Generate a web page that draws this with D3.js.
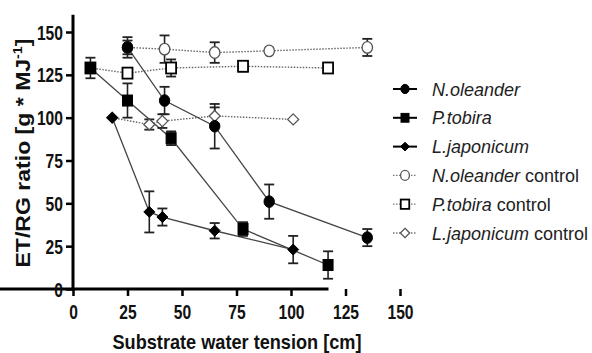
<!DOCTYPE html>
<html>
<head>
<meta charset="utf-8">
<script src="https://cdn.jsdelivr.net/npm/d3@7"></script>
<style>
  body { margin: 0; background: #fff; }
  svg { display: block; font-family: "Liberation Sans", Arial, sans-serif; }
</style>
</head>
<body>
<svg id="chart" width="592" height="353"></svg>
<script>
// tick labels
const xTicks = [0, 25, 50, 75, 100, 125, 150];
const yTicks = [0, 25, 50, 75, 100, 125, 150];

// N. oleander
const noleanderX = [25, 42, 65, 90, 135];
const noleanderY = [141, 110, 95, 51, 30];
const noleanderErr = [6, 8, 13, 10, 5];
const noleanderCtrlY = [141, 140, 138, 139, 141];
const noleanderCtrlErr = [4, 8, 6, 0, 5];

// P. tobira
const tobiraX = [8, 25, 45, 78, 117];
const tobiraY = [129, 110, 88, 35, 14];
const tobiraErr = [6, 10, 4, 4, 8];
const tobiraCtrlY = [129, 126, 129, 130, 129];
const tobiraCtrlErr = [0, 0, 5, 3, 0];

// L. japonicum
const japonicumX = [18, 35, 41, 65, 101];
const japonicumY = [100, 45, 42, 34, 23];
const japonicumErr = [0, 12, 5, 4.5, 8];
const japonicumCtrlY = [100, 96, 98, 101, 99];
const japonicumCtrlErr = [0, 3, 4, 5, 0];

const svg = d3.select('#chart');
const boldFont = '"Liberation Sans", Arial, sans-serif';

const x = d3.scaleLinear().domain([0, 150]).range([73, 400]);
const y = d3.scaleLinear().domain([0, 150]).range([289, 32]);

const zip = (xs, ys, es) => xs.map((v, i) => ({ x: v, y: ys[i], e: es[i] }));

const series = [
  { name: 'N.oleander', shape: 'circle', filled: true, data: zip(noleanderX, noleanderY, noleanderErr) },
  { name: 'P.tobira', shape: 'square', filled: true, data: zip(tobiraX, tobiraY, tobiraErr) },
  { name: 'L.japonicum', shape: 'diamond', filled: true, data: zip(japonicumX, japonicumY, japonicumErr) },
  { name: 'N.oleander', shape: 'circle', filled: false, data: zip(noleanderX, noleanderCtrlY, noleanderCtrlErr) },
  { name: 'P.tobira', shape: 'square', filled: false, data: zip(tobiraX, tobiraCtrlY, tobiraCtrlErr) },
  { name: 'L.japonicum', shape: 'diamond', filled: false, data: zip(japonicumX, japonicumCtrlY, japonicumCtrlErr) }
];

// axes
const xAxis = svg.append('g')
  .attr('transform', 'translate(0,' + y(0) + ')')
  .call(d3.axisBottom(x).tickValues(xTicks).tickSize(7).tickPadding(9));
const yAxis = svg.append('g')
  .attr('transform', 'translate(' + x(0) + ',0)')
  .call(d3.axisLeft(y).tickValues(yTicks).tickSize(7).tickPadding(3));

[xAxis, yAxis].forEach(a => {
  a.select('.domain').attr('stroke', '#000').attr('stroke-width', 3);
  a.selectAll('.tick line').attr('stroke', '#000').attr('stroke-width', 2.5);
  // condensed bold digits, like the original
  a.selectAll('.tick text')
    .attr('fill', '#111')
    .attr('textLength', d => String(d).length * 8.7)
    .attr('lengthAdjust', 'spacingAndGlyphs')
    .style('font-size', '19.5px')
    .style('font-weight', 'bold')
    .style('font-family', boldFont);
});
yAxis.selectAll('.tick text').attr('dy', '0.36em');
// extend the y axis up to 160
yAxis.select('.domain').attr('d', 'M0,' + y(160) + 'V' + (y(0) + 1.5));
xAxis.select('.domain').attr('d', 'M-1.5,0H' + (x(150) - x(0) + 1.5));

// axis titles
svg.append('text')
  .attr('x', 237).attr('y', 349)
  .attr('text-anchor', 'middle')
  .attr('textLength', 249).attr('lengthAdjust', 'spacingAndGlyphs')
  .style('font-size', '21px').style('font-weight', 'bold')
  .style('font-family', boldFont).attr('fill', '#111')
  .text('Substrate water tension [cm]');

const yTitle = svg.append('text')
  .attr('transform', 'translate(30,153) rotate(-90)')
  .attr('text-anchor', 'middle')
  .attr('textLength', 229).attr('lengthAdjust', 'spacingAndGlyphs')
  .style('font-size', '21px').style('font-weight', 'bold')
  .style('font-family', boldFont).attr('fill', '#111');
yTitle.append('tspan').text('ET/RG ratio [g * MJ');
yTitle.append('tspan').attr('dy', -8).style('font-size', '13px').text('-1');
yTitle.append('tspan').attr('dy', 8).text(']');

// markers
function marker(g, s, cx, cy, scale) {
  const k = scale || 1;
  const fill = s.filled ? '#000' : '#fff';
  const stroke = s.filled ? '#000' : (s.shape === 'square' ? '#000' : '#555');
  const sw = s.filled ? 1 : (s.shape === 'square' ? 1.8 : 1.3);
  if (s.shape === 'circle') {
    g.append('ellipse').attr('cx', cx).attr('cy', cy)
      .attr('rx', 5.2 * k).attr('ry', 5.8 * k)
      .attr('fill', fill).attr('stroke', stroke).attr('stroke-width', sw);
  } else if (s.shape === 'square') {
    g.append('rect').attr('x', cx - 5 * k).attr('y', cy - 5.5 * k)
      .attr('width', 10 * k).attr('height', 11 * k)
      .attr('fill', fill).attr('stroke', stroke).attr('stroke-width', sw);
  } else {
    const r = 5.5 * k;
    g.append('path')
      .attr('d', `M${cx},${cy - r}L${cx + r},${cy}L${cx},${cy + r}L${cx - r},${cy}Z`)
      .attr('fill', fill).attr('stroke', stroke).attr('stroke-width', sw);
  }
}

const line = d3.line().x(d => x(d.x)).y(d => y(d.y));
const plot = svg.append('g');

// control lines first (dotted), then treatment lines
series.filter(s => !s.filled).forEach(s => {
  plot.append('path').datum(s.data)
    .attr('d', line).attr('fill', 'none')
    .attr('stroke', '#666').attr('stroke-width', 1.4)
    .attr('stroke-dasharray', '1.5,1.5');
});
series.filter(s => s.filled).forEach(s => {
  plot.append('path').datum(s.data)
    .attr('d', line).attr('fill', 'none')
    .attr('stroke', '#444').attr('stroke-width', 1.3);
});

// error bars
series.forEach(s => {
  const eb = plot.append('g');
  s.data.filter(d => d.e > 0).forEach(d => {
    const cx = x(d.x);
    eb.append('line').attr('x1', cx).attr('x2', cx)
      .attr('y1', y(d.y - d.e)).attr('y2', y(d.y + d.e))
      .attr('stroke', '#222').attr('stroke-width', 1.6);
    [d.y - d.e, d.y + d.e].forEach(v => {
      eb.append('line').attr('x1', cx - 5).attr('x2', cx + 5)
        .attr('y1', y(v)).attr('y2', y(v))
        .attr('stroke', '#222').attr('stroke-width', 1.8);
    });
  });
});

// points: controls under treatments
series.filter(s => !s.filled).concat(series.filter(s => s.filled)).forEach(s => {
  const g = plot.append('g');
  s.data.forEach(d => marker(g, s, x(d.x), y(d.y)));
});

// legend
const legend = svg.append('g');
series.forEach((s, i) => {
  const ly = 89 + i * 28.8;
  const g = legend.append('g');
  g.append('line').attr('x1', 393).attr('x2', 417).attr('y1', ly).attr('y2', ly)
    .attr('stroke', s.filled ? '#000' : '#777')
    .attr('stroke-width', s.filled ? 2 : 1.3)
    .attr('stroke-dasharray', s.filled ? null : '1.5,1.5');
  marker(g, s, 405, ly, s.filled ? 0.8 : 0.85);
  const t = g.append('text').attr('x', 432).attr('y', ly + 6.5)
    .style('font-size', '18px').attr('fill', '#222');
  t.append('tspan').style('font-style', 'italic').text(s.name);
  if (!s.filled) t.append('tspan').text(' control');
});
</script>
</body>
</html>
